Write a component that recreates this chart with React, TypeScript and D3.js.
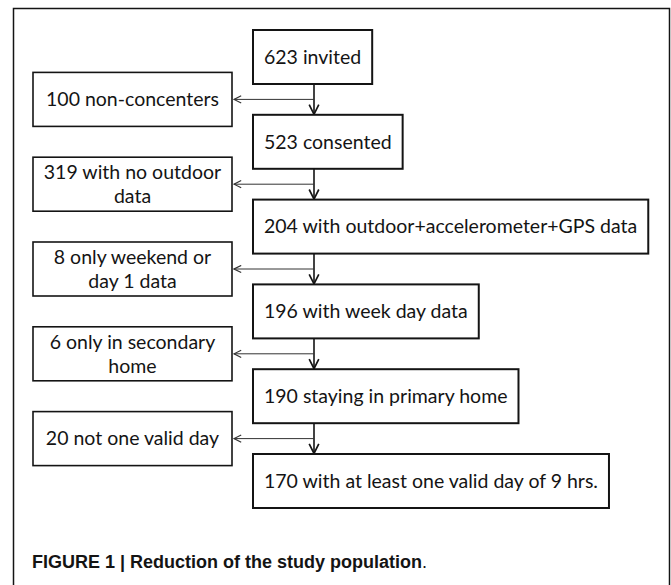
import * as d3 from 'd3';
import { useEffect, useRef } from 'react';

// main flow, top to bottom
const steps = [
  '623 invited',
  '523 consented',
  '204 with outdoor+accelerometer+GPS data',
  '196 with week day data',
  '190 staying in primary home',
  '170 with at least one valid day of 9 hrs.',
];

// excluded at each step (lines of text per box)
const exclusions = [
  ['100 non-concenters'],
  ['319 with no outdoor', 'data'],
  ['8 only weekend or', 'day 1 data'],
  ['6 only in secondary', 'home'],
  ['20 not one valid day'],
];

const captionBold = 'FIGURE 1 | Reduction of the study population';
const captionTail = '.';

const W = 671;
const H = 585;
const ink = '#141414';
const font = 'Lato, "Noto Sans", sans-serif';

const App = () => {
  const svgRef = useRef<SVGSVGElement | null>(null);

  useEffect(() => {
    document.body.style.margin = '0';
    const svg = d3.select(svgRef.current);
    svg.selectAll('*').remove();

    const boxH = 54;
    const mainX = 253;
    const spineX = 314;
    const sideX = 33;
    const sideW = 199;
    const row = d3.scaleLinear().domain([0, steps.length - 1]).range([30, 454]);

    const defs = svg.append('defs');
    const addHead = (id: string, size: number, color: string, sw: number) =>
      defs
        .append('marker')
        .attr('id', id)
        .attr('viewBox', '0 0 10 10')
        .attr('refX', 9)
        .attr('refY', 5)
        .attr('markerWidth', size)
        .attr('markerHeight', size)
        .attr('markerUnits', 'userSpaceOnUse')
        .attr('orient', 'auto')
        .append('path')
        .attr('d', 'M1,1 L9,5 L1,9')
        .attr('fill', 'none')
        .attr('stroke', color)
        .attr('stroke-width', sw);
    addHead('headV', 12, ink, 1.4);
    addHead('headH', 9, '#333', 1.3);

    // outer frame
    svg
      .append('rect')
      .attr('x', 13.5)
      .attr('y', 8.5)
      .attr('width', 656)
      .attr('height', 640)
      .attr('fill', 'none')
      .attr('stroke', ink)
      .attr('stroke-width', 1.5);

    // connectors
    const links = svg.append('g');
    exclusions.forEach((_, i) => {
      const y0 = row(i) + boxH;
      const y1 = row(i + 1);
      const mid = (y0 + y1) / 2;
      links
        .append('line')
        .attr('x1', spineX)
        .attr('x2', spineX)
        .attr('y1', y0)
        .attr('y2', y1 - 0.5)
        .attr('stroke', ink)
        .attr('stroke-width', 1.6)
        .attr('marker-end', 'url(#headV)');
      links
        .append('line')
        .attr('x1', spineX)
        .attr('x2', sideX + sideW + 2)
        .attr('y1', mid)
        .attr('y2', mid)
        .attr('stroke', '#333')
        .attr('stroke-width', 1)
        .attr('marker-end', 'url(#headH)');
    });

    // main boxes
    steps.forEach((label, i) => {
      const g = svg.append('g');
      const rect = g.append('rect');
      const t = g
        .append('text')
        .attr('y', row(i) + boxH / 2)
        .attr('dy', '0.35em')
        .attr('font-family', font)
        .attr('font-size', 19.5)
        .attr('fill', ink)
        .text(label);
      const tw = (t.node() as SVGTextElement).getComputedTextLength();
      const bw = tw + 22;
      t.attr('x', mainX + bw / 2).attr('text-anchor', 'middle');
      rect
        .attr('x', mainX)
        .attr('y', row(i))
        .attr('width', bw)
        .attr('height', boxH)
        .attr('fill', '#fff')
        .attr('stroke', ink)
        .attr('stroke-width', 2);
    });

    // exclusion boxes
    exclusions.forEach((lines, i) => {
      const mid = (row(i) + boxH + row(i + 1)) / 2;
      const g = svg.append('g');
      g.append('rect')
        .attr('x', sideX)
        .attr('y', mid - boxH / 2)
        .attr('width', sideW)
        .attr('height', boxH)
        .attr('fill', '#fff')
        .attr('stroke', ink)
        .attr('stroke-width', 1.6);
      const lh = 24;
      lines.forEach((ln, k) => {
        g.append('text')
          .attr('x', sideX + sideW / 2)
          .attr('y', mid + (k - (lines.length - 1) / 2) * lh)
          .attr('dy', '0.35em')
          .attr('text-anchor', 'middle')
          .attr('font-family', font)
          .attr('font-size', 19.5)
          .attr('fill', ink)
          .text(ln);
      });
    });

    // caption
    const cap = svg
      .append('text')
      .attr('x', 32)
      .attr('y', 568)
      .attr('font-family', '"Liberation Sans Narrow", "Liberation Sans", Arial, sans-serif')
      .attr('font-size', 18)
      .attr('fill', ink);
    cap.append('tspan').attr('font-weight', 'bold').text(captionBold);
    cap.append('tspan').attr('font-weight', 'normal').text(captionTail);
  }, []);

  return <svg ref={svgRef} width={W} height={H} style={{ display: 'block', background: '#fff' }} />;
};

export default App;
